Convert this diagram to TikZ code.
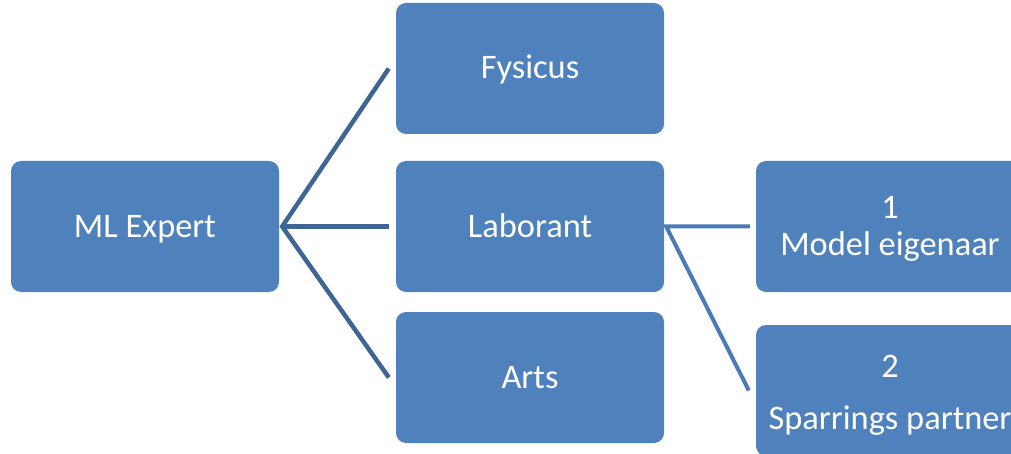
\documentclass[tikz,border=0pt]{standalone}
\usepackage{fontspec}
\setmainfont{Carlito}
\definecolor{boxblue}{HTML}{4F81BD}
\definecolor{linkdark}{HTML}{3E6596}
\definecolor{linklight}{HTML}{4A7BB8}
\tikzset{
  role/.style={rectangle, rounded corners=10pt, fill=boxblue, draw=none,
    minimum width=268pt, minimum height=131pt, inner sep=0pt,
    text=white, font=\fontsize{34.4pt}{37pt}\selectfont, align=center},
  oneline/.style={text height=25pt, text depth=4pt},
  linkA/.style={draw=linkdark, line width=4.5pt, line join=miter},
  linkB/.style={draw=linklight, line width=4pt, line join=miter}
}
\begin{document}
\begin{tikzpicture}[x=1pt, y=-1pt]
  \useasboundingbox (0,0) rectangle (1011,454);
  \clip (0,0) rectangle (1011,454);

  % boxes
  \node[role, oneline] (ml)   at (145,226.5) {ML Expert};
  \node[role, oneline] (fys)  at (530,68.5)  {Fysicus};
  \node[role, oneline] (lab)  at (530,226.5) {Laborant};
  \node[role, oneline] (arts) at (530,377.5) {Arts};
  \node[role] (mod)  at (890,226.5) {\rule{0pt}{26pt}1\\Model eigenaar};
  \node[role] (spar) at (890,390.5) {\rule{0pt}{31pt}2\\[15pt]Sparrings partner};

  % fork points and free ends of the connectors
  \coordinate (f1) at ([xshift=3pt]ml.east);
  \coordinate (t1) at ([xshift=-7pt]fys.west);
  \coordinate (t2) at ([xshift=-7pt]lab.west);
  \coordinate (t3) at ([xshift=-7pt]arts.west);
  \coordinate (f2) at ([xshift=2pt]lab.east);
  \coordinate (t4) at ([xshift=-6pt]mod.west);
  \coordinate (t5) at ([xshift=-7pt]spar.west);

  % connectors
  \draw[linkA] (t1) -- (f1) -- (t3);
  \draw[linkA] (f1) -- (t2);
  \draw[linkB] (t4) -- (f2) -- (t5);
\end{tikzpicture}
\end{document}
